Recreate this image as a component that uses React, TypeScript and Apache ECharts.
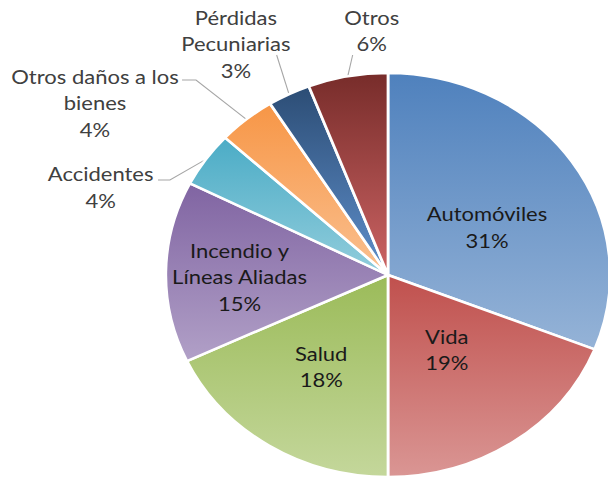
import React, { useEffect, useRef } from 'react';
import * as echarts from 'echarts';

const categories = [
  'Automóviles',
  'Vida',
  'Salud',
  'Incendio y\nLíneas Aliadas',
  'Accidentes',
  'Otros daños a los\nbienes',
  'Pérdidas\nPecuniarias',
  'Otros',
];
const values = [31, 19, 18, 14.5, 4.4, 4.2, 3.1, 5.8];
const topColors = ['#4F81BD', '#C0504D', '#9BBB59', '#8064A2', '#4BACC6', '#F79646', '#2C4D75', '#772C2A'];
const bottomColors = ['#95B3D7', '#DA9694', '#C4D79B', '#B1A0C7', '#92CDDC', '#FAC090', '#5F8FCB', '#CC6464'];
const insideLabel = [true, true, true, true, false, false, false, false];

// label placement (chart px, before horizontal stretch)
const insideShift: [number, number][] = [
  [4, 10],
  [-5, -12],
  [-5, 3],
  [-31, 3],
];
const outsideAnchor: Record<number, { x: number; y: number; line: [number, number][] }> = {
  4: { x: 91.5, y: 186.5, line: [[154.5, 180], [143.6, 180]] },
  5: { x: 86.4, y: 102, line: [[178.2, 80], [165.5, 80]] },
  6: { x: 214.5, y: 43, line: [[251.5, 55], [251.5, 55]] },
  7: { x: 338, y: 30, line: [[320.6, 55], [320.6, 55]] },
};

const W = 608;
const H = 479;
const SX = 1.1;

export default function App() {
  const ref = useRef<HTMLDivElement>(null);
  useEffect(() => {
    if (!ref.current) return;
    const chart = echarts.init(ref.current, undefined, { renderer: 'svg' });
    const data = categories.map((name, i) => ({
      name,
      value: values[i],
      itemStyle: {
        color: {
          type: 'linear',
          x: 0,
          y: 0,
          x2: 0,
          y2: 1,
          colorStops: [
            { offset: 0, color: topColors[i] },
            { offset: 1, color: bottomColors[i] },
          ],
        },
      },
      label: insideLabel[i]
        ? { position: 'inside', color: '#1a1a1a' }
        : { position: 'outside', color: '#404040' },
      labelLine: { show: !insideLabel[i] },
    }));
    chart.setOption({
      animation: false,
      backgroundColor: '#ffffff',
      series: [
        {
          type: 'pie',
          center: [388 / SX, 275],
          radius: 202,
          startAngle: 90,
          clockwise: true,
          avoidLabelOverlap: false,
          data,
          itemStyle: { borderColor: '#ffffff', borderWidth: 2.5 },
          label: {
            fontFamily: 'Lato',
            fontSize: 20,
            lineHeight: 26.5,
            align: 'center',
            formatter: (p: any) => `${p.name}\n${Math.round(p.value)}%`,
          },
          labelLine: {
            length: 18,
            length2: 12,
            lineStyle: { color: '#a6a6a6', width: 1 },
          },
          labelLayout: (params: any) => {
            const i = params.dataIndex;
            if (insideLabel[i]) {
              const [dx, dy] = insideShift[i];
              return { dx, dy, hideOverlap: false, align: 'center', verticalAlign: 'middle' };
            }
            const a = outsideAnchor[i];
            const pts = params.labelLinePoints;
            const start = pts && pts[0] ? pts[0] : a.line[0];
            return {
              x: a.x,
              y: a.y,
              align: 'center',
              verticalAlign: 'middle',
              hideOverlap: false,
              moveOverlap: false,
              labelLinePoints: [start, a.line[0], a.line[1]],
            };
          },
        },
      ],
    });
    return () => chart.dispose();
  }, []);
  return (
    <div
      style={{
        position: 'fixed',
        left: 0,
        top: 0,
        width: W,
        height: H,
        overflow: 'hidden',
        background: '#fff',
      }}
    >
      <div
        ref={ref}
        style={{
          width: W / SX,
          height: H,
          transform: `scaleX(${SX})`,
          transformOrigin: '0 0',
        }}
      />
    </div>
  );
}
